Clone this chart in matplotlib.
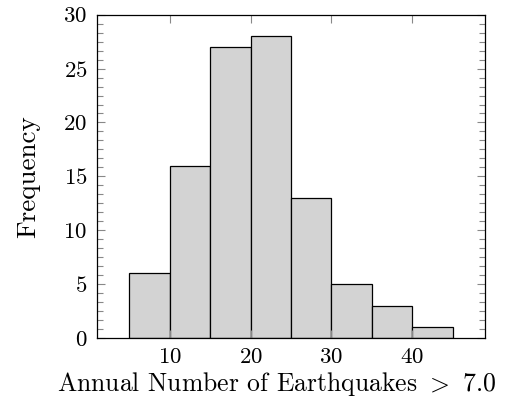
import matplotlib.pyplot as plt
from matplotlib.ticker import MultipleLocator, AutoMinorLocator

plt.rcParams['font.family'] = 'serif'
plt.rcParams['font.serif'] = ['cmr10']
plt.rcParams['mathtext.fontset'] = 'cm'
plt.rcParams['axes.formatter.use_mathtext'] = True
plt.rcParams['axes.unicode_minus'] = False

# histogram bins (left edges) and counts
bin_left = [5, 10, 15, 20, 25, 30, 35, 40]
bin_width = 5
counts = [6, 16, 27, 28, 13, 5, 3, 1]

fig = plt.figure(figsize=(5.31, 4.03), dpi=100)
ax = fig.add_axes([0.1827, 0.1613, 0.7307, 0.8022])

ax.bar(bin_left, counts, width=bin_width, align='edge',
       color='#d3d3d3', edgecolor='black', linewidth=0.9)

ax.set_xlim(1, 49)
ax.set_ylim(0, 30)
ax.xaxis.set_major_locator(MultipleLocator(10))
ax.yaxis.set_major_locator(MultipleLocator(5))
ax.yaxis.set_minor_locator(AutoMinorLocator(6))

ax.tick_params(which='both', direction='in', color='#888888',
               top=True, right=True, labelsize=16.5, pad=7)
ax.tick_params(which='major', length=6, width=0.8)
ax.tick_params(which='minor', length=4, width=0.8)
for s in ax.spines.values():
    s.set_linewidth(0.9)

ax.set_xlabel(r'Annual Number of Earthquakes $>$ 7.0', fontsize=18.5, labelpad=2)
ax.xaxis.label.set_x(0.464)
ax.set_ylabel('Frequency', fontsize=19.5, labelpad=17)

fig.savefig('out.png', dpi=100)
